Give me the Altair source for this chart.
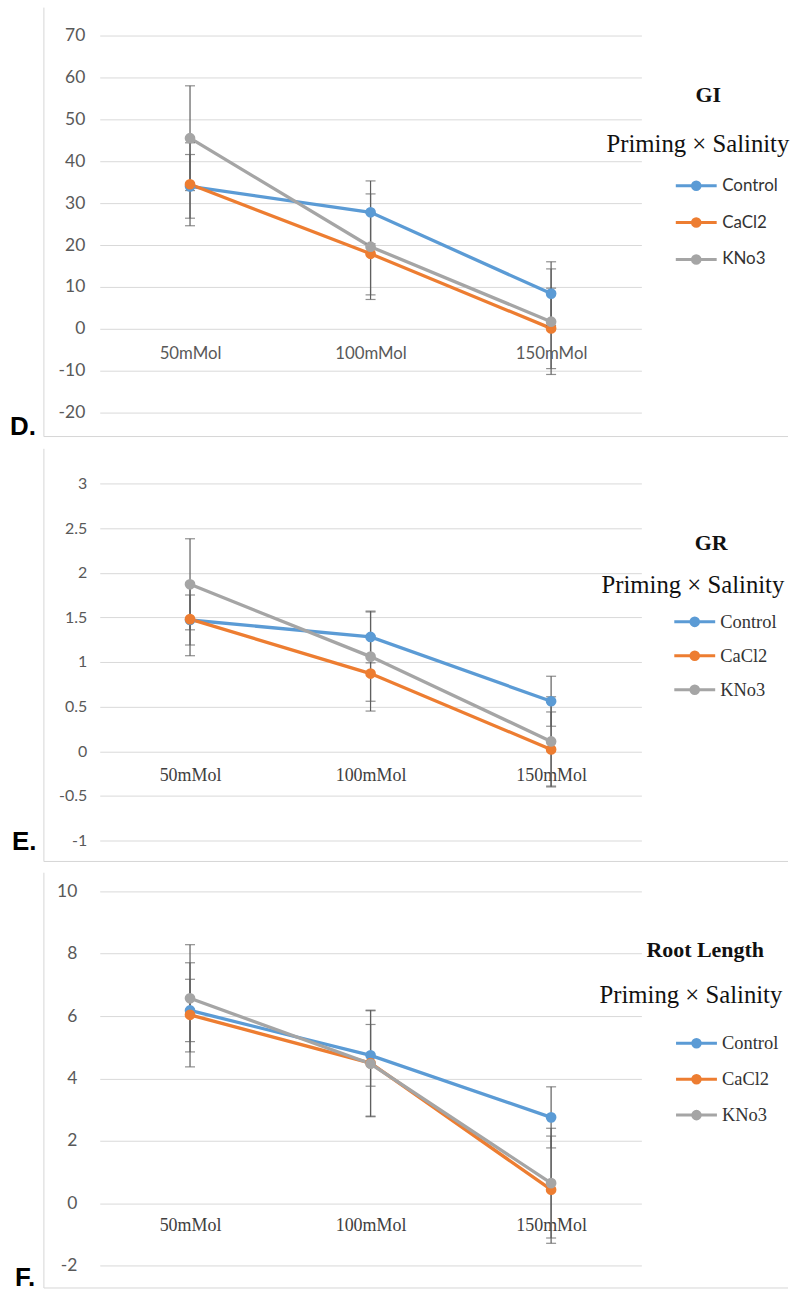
import altair as alt
import pandas as pd

categories = ["50mMol", "100mMol", "150mMol"]
series_names = ["Control", "CaCl2", "KNo3"]
colors = ["#5B9BD5", "#ED7D31", "#A5A5A5"]

# GI
gi_control = [34.0, 27.8, 8.4]
gi_cacl2 = [34.5, 17.9, 0.1]
gi_kno3 = [45.5, 19.6, 1.7]
gi_err_control = [7.6, 7.5, 7.6]
gi_err_cacl2 = [9.9, 9.8, 9.6]
gi_err_kno3 = [12.5, 12.6, 12.6]
gi_ticks = [-20, -10, 0, 10, 20, 30, 40, 50, 60, 70]

# GR
gr_control = [1.47, 1.28, 0.56]
gr_cacl2 = [1.48, 0.87, 0.02]
gr_kno3 = [1.87, 1.06, 0.11]
gr_err_control = [0.28, 0.29, 0.28]
gr_err_cacl2 = [0.41, 0.42, 0.42]
gr_err_kno3 = [0.51, 0.50, 0.50]
gr_ticks = [-1, -0.5, 0, 0.5, 1, 1.5, 2, 2.5, 3]

# Root length
rl_control = [6.18, 4.74, 2.75]
rl_cacl2 = [6.04, 4.49, 0.43]
rl_kno3 = [6.57, 4.47, 0.64]
rl_err_control = [1.0, 0.99, 0.98]
rl_err_cacl2 = [1.67, 1.70, 1.72]
rl_err_kno3 = [1.72, 1.70, 1.76]
rl_ticks = [-2, 0, 2, 4, 6, 8, 10]

W = 543
GRID = "#d9d9d9"
FRAME = "#d6d6d6"
SANS = "Lato"
SERIF = "Liberation Serif"


def make_df(vals, errs):
    rows = []
    for s, v, e in zip(series_names, vals, errs):
        for c, vv, ee in zip(categories, v, e):
            rows.append({"series": s, "cat": c, "value": vv, "lo": vv - ee, "hi": vv + ee})
    return pd.DataFrame(rows)


def legend_path(s):
    u = s / 2.0
    L = 20.5 / u
    parts = ["M%.3f,0L%.3f,0" % (-L, L)]
    for rpx in (3.8, 2.2, 0.7):
        r = rpx / u
        parts.append("M%.3f,0A%.3f,%.3f 0 1,0 %.3f,0A%.3f,%.3f 0 1,0 %.3f,0" % (-r, r, r, r, r, r, -r))
    return "".join(parts)


def panel(vals, errs, ticks, H, cfg):
    df = make_df(vals, errs)
    ymin, ymax = ticks[0], ticks[-1]
    zero_off = (0 - ymin) / (ymax - ymin) * H
    one = pd.DataFrame({"k": [0]})

    yscale = alt.Scale(domain=[ymin, ymax], nice=False, zero=False)
    xscale = alt.Scale(type="point", padding=0.5)

    xaxis = alt.Axis(title=None, orient="bottom", offset=-zero_off, domain=False,
                     ticks=False, tickSize=0, labelAngle=0, grid=False,
                     labelPadding=cfg["xlab_pad"], labelBaseline="middle",
                     labelFont=cfg["xlab_font"], labelFontSize=cfg["xlab_fs"],
                     labelColor=cfg["xlab_color"])
    yaxis = alt.Axis(title=None, values=ticks, grid=True, gridColor=GRID,
                     gridWidth=1, domain=False, ticks=False, tickSize=0,
                     labelPadding=cfg["ylab_pad"], labelFont=SANS,
                     labelFontSize=cfg["ylab_fs"], labelColor="#595959",
                     labelExpr="toString(datum.value)")

    def X():
        return alt.X("cat:N", sort=categories, scale=xscale, axis=xaxis)

    def Y(field):
        return alt.Y(field, scale=yscale, axis=yaxis)

    left_line = alt.Chart(one).mark_rule(color=FRAME, strokeWidth=1).encode(
        x=alt.value(-56), y=alt.value(cfg["frame_top"]), y2=alt.value(cfg["frame_bottom"]))
    bottom_line = alt.Chart(one).mark_rule(color=FRAME, strokeWidth=1).encode(
        x=alt.value(-56), x2=alt.value(690), y=alt.value(cfg["frame_bottom"]))

    s = cfg["leg_size"]
    legend = alt.Legend(
        orient="none", legendX=cfg["leg_x"], legendY=cfg["leg_y"], title=None,
        symbolType=legend_path(s), symbolSize=s * s, symbolStrokeWidth=3,
        labelFont=cfg["leg_font"], labelFontSize=cfg["leg_fs"], labelColor="#333333",
        labelOffset=cfg["leg_off"], rowPadding=cfg["leg_row"], padding=0, symbolOffset=0)

    cscale = alt.Scale(domain=series_names, range=colors)
    color = alt.Color("series:N", scale=cscale, sort=series_names, legend=legend)

    lines = alt.Chart(df).mark_line(strokeWidth=3.3).encode(
        x=X(), y=Y("value:Q"), color=color, detail="series:N")

    pts = alt.Chart(df).mark_point(filled=True, size=115, opacity=1).encode(
        x=X(), y=Y("value:Q"), color=color)

    bars = alt.Chart(df).mark_rule(color="#5f5f5f", strokeWidth=1.2).encode(
        x=X(), y=Y("lo:Q"), y2="hi:Q")
    caps_lo = alt.Chart(df).mark_tick(color="#5f5f5f", size=10, thickness=1.2,
                                      orient="horizontal").encode(x=X(), y=Y("lo:Q"))
    caps_hi = alt.Chart(df).mark_tick(color="#5f5f5f", size=10, thickness=1.2,
                                      orient="horizontal").encode(x=X(), y=Y("hi:Q"))

    letter = alt.Chart(one).mark_text(
        text=cfg["letter"], font="Liberation Sans", fontWeight="bold", fontSize=26,
        align="left", baseline="alphabetic", color="#000000").encode(
        x=alt.value(cfg["letter_x"]), y=alt.value(cfg["letter_y"]))
    head = alt.Chart(one).mark_text(
        text=cfg["title"], font=SERIF, fontWeight="bold", fontSize=22,
        align="center", baseline="middle", color="#111111").encode(
        x=alt.value(cfg["title_x"]), y=alt.value(cfg["title_y"]))
    sub = alt.Chart(one).mark_text(
        text="Priming × Salinity", font=SERIF, fontSize=24.8,
        align="left", baseline="middle", color="#111111").encode(
        x=alt.value(cfg["sub_x"]), y=alt.value(cfg["sub_y"]))

    return alt.layer(left_line, bottom_line, lines, bars, caps_lo, caps_hi, pts,
                     letter, head, sub).properties(width=W, height=H)


pD = panel([gi_control, gi_cacl2, gi_kno3], [gi_err_control, gi_err_cacl2, gi_err_kno3],
           gi_ticks, 378, dict(
               frame_top=-28, frame_bottom=402, leg_size=37, leg_x=578, leg_y=130.5,
               leg_row=7, leg_font=SANS, leg_fs=17, leg_off=6, xlab_pad=25, xlab_font=SANS,
               xlab_fs=16.8, xlab_color="#595959", ylab_pad=15, ylab_fs=17.5, letter="D.",
               letter_x=-90, letter_y=400, title="GI", title_x=610, title_y=60,
               sub_x=508, sub_y=110))

pE = panel([gr_control, gr_cacl2, gr_kno3], [gr_err_control, gr_err_cacl2, gr_err_kno3],
           gr_ticks, 358, dict(
               frame_top=-34.7, frame_bottom=379, leg_size=34, leg_x=578, leg_y=120.3,
               leg_row=5, leg_font=SERIF, leg_fs=18.5, leg_off=7, xlab_pad=24, xlab_font=SERIF,
               xlab_fs=18, xlab_color="#404040", ylab_pad=13, ylab_fs=16, letter="E.",
               letter_x=-88, letter_y=368, title="GR", title_x=613, title_y=60,
               sub_x=503, sub_y=103.3))

pF = panel([rl_control, rl_cacl2, rl_kno3], [rl_err_control, rl_err_cacl2, rl_err_kno3],
           rl_ticks, 375, dict(
               frame_top=-18.7, frame_bottom=397.6, leg_size=35.5, leg_x=578.75, leg_y=132.8,
               leg_row=6, leg_font=SERIF, leg_fs=18.5, leg_off=6, xlab_pad=22, xlab_font=SERIF,
               xlab_fs=18, xlab_color="#404040", ylab_pad=23, ylab_fs=17.5, letter="F.",
               letter_x=-85, letter_y=396, title="Root Length", title_x=607, title_y=58.6,
               sub_x=501, sub_y=104.6))

inner = alt.vconcat(pE, pF, spacing=51, bounds="flush").resolve_scale(
    color="independent").resolve_legend(color="independent")

chart = alt.vconcat(
    pD, inner, spacing=71, bounds="flush",
).resolve_scale(color="independent").resolve_legend(color="independent").properties(
    padding={"left": 10, "top": 5, "right": 0, "bottom": 0},
    background="#ffffff",
).configure_view(stroke=None)

chart.save("out.html", embed_options={"renderer": "svg", "actions": False})
